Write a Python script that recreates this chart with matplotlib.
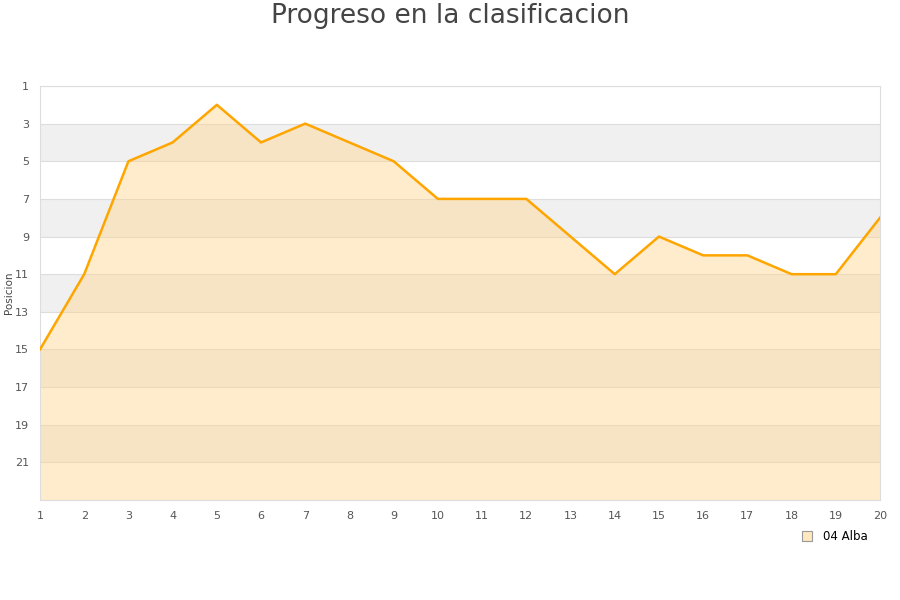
import matplotlib
matplotlib.use("Agg")
import matplotlib.pyplot as plt
from matplotlib.lines import Line2D

jornadas = list(range(1, 21))
posiciones = [15, 11, 5, 4, 2, 4, 3, 4, 5, 7, 7, 7, 9, 11, 9, 10, 10, 11, 11, 8]
yticks = list(range(1, 22, 2))
team = "04 Alba"
title = "Progreso en la clasificacion"

fig = plt.figure(figsize=(9, 6), dpi=100)
ax = fig.add_axes([40/900, 1-500/600, 840/900, 414/600])

ymin, ymax = 1, 23
# alternating bands
for b in range(3, 23, 4):
    ax.axhspan(b, b+2, color="#f0f0f0", zorder=0, lw=0)
for t in yticks:
    ax.axhline(t, color="#dddddd", lw=0.8, zorder=1)

ax.fill_between(jornadas, posiciones, ymax, color="#ffd68f", alpha=0.45, lw=0, zorder=2)
ax.plot(jornadas, posiciones, color="#ffa500", lw=1.8, zorder=3)

ax.set_xlim(1, 20)
ax.set_ylim(ymax, ymin)
ax.set_xticks(jornadas)
ax.set_yticks(yticks)
ax.tick_params(axis="both", length=0, labelsize=8, colors="#555555", pad=8)
for s in ax.spines.values():
    s.set_color("#dddddd")
ax.set_ylabel("Posicion", fontsize=7.5, color="#444444")
ax.yaxis.set_label_coords(-26/840, 0.5)

fig.text(0.5, 1-16/600, title, ha="center", va="center", fontsize=19, color="#444444")

handle = Line2D([], [], marker="s", linestyle="none", markersize=7,
                markerfacecolor="#ffe8c0", markeredgecolor="#999999", markeredgewidth=0.8)
fig.legend([handle], [team], loc="center left", bbox_to_anchor=(795/900, 1-537/600),
           frameon=False, fontsize=8.5, handletextpad=0.4, borderaxespad=0, borderpad=0)

fig.savefig("out.png", dpi=100)
